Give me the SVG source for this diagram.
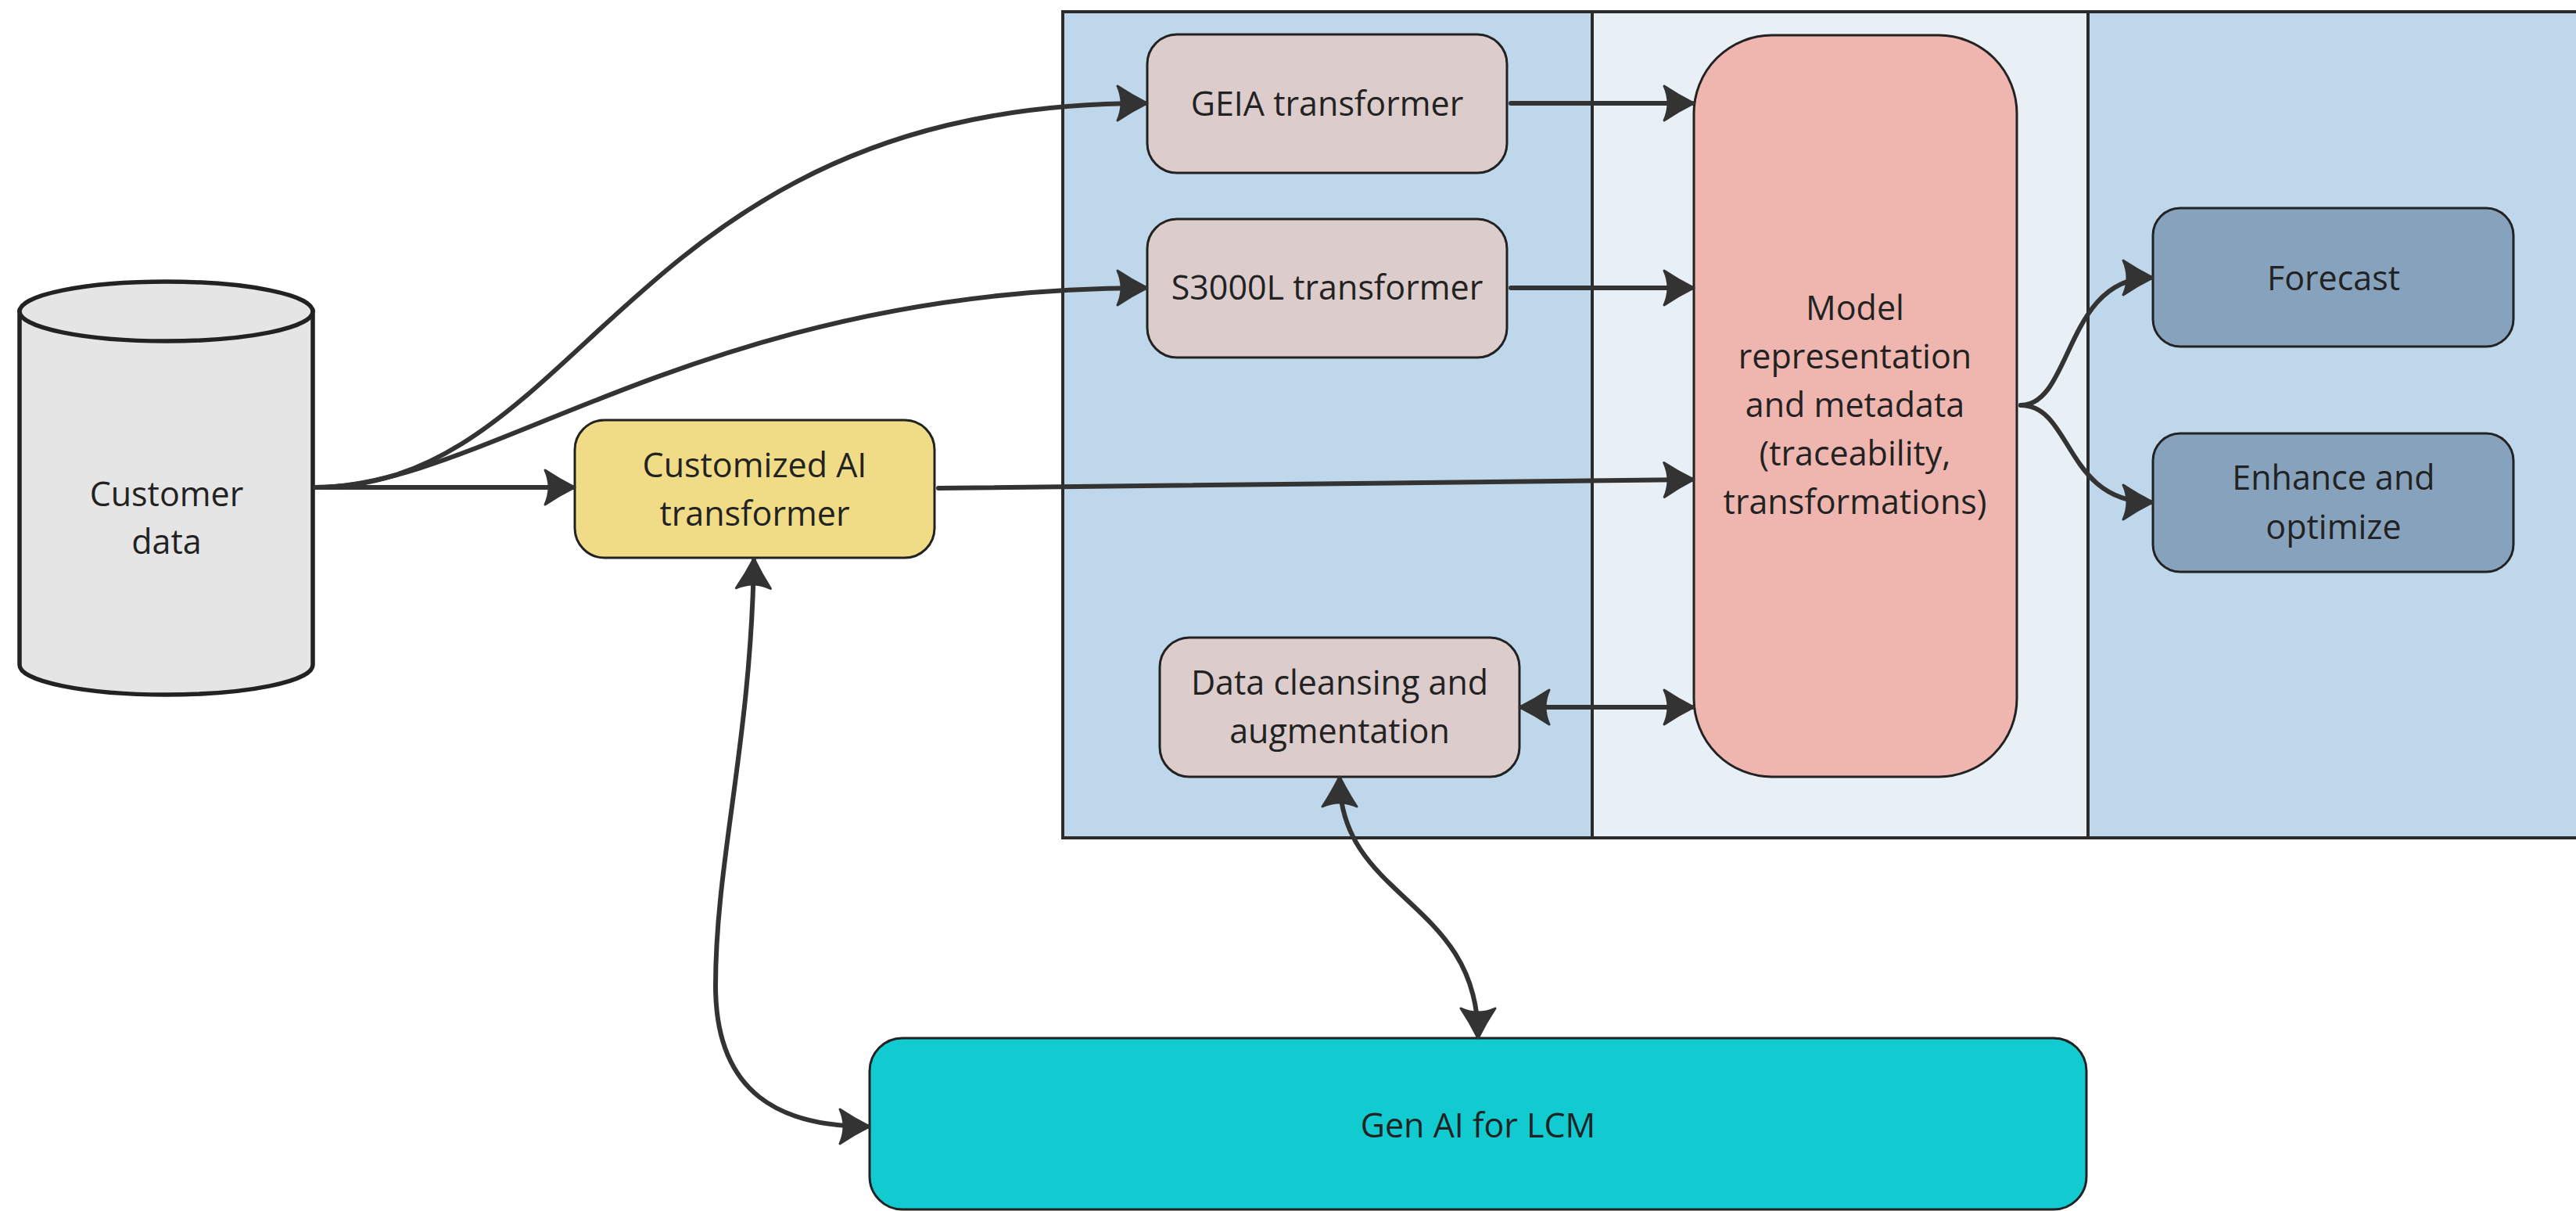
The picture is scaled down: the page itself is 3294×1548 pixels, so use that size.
<svg xmlns="http://www.w3.org/2000/svg" width="3294" height="1548" viewBox="0 0 3294 1548">
<defs>
<style>
.panel{stroke:#2b2b2b;stroke-width:4}
.node{stroke:#222;stroke-width:3}
.cyl{stroke:#222;stroke-width:5.5;fill:#E5E5E5}
.lbl{font-family:"Open Sans","Noto Sans","Liberation Sans",sans-serif;font-size:43px;fill:#222;text-anchor:middle}
.edge{fill:none;stroke:#333;stroke-width:6;stroke-linecap:round}
</style>
<marker id="arr" viewBox="0 0 44 50" refX="40" refY="25" markerWidth="44" markerHeight="50" markerUnits="userSpaceOnUse" orient="auto-start-reverse">
<path d="M4,3 Q22,15 42,25 Q22,35 4,47 Q14,25 4,3 Z" fill="#333" stroke="#333" stroke-width="3" stroke-linejoin="round"/>
</marker>
</defs>
<rect width="3294" height="1548" fill="#ffffff"/>
<g id="panels">
<rect class="panel" x="1359" y="15" width="677" height="1056" fill="#BFD7EA"/>
<rect class="panel" x="2036" y="15" width="634" height="1056" fill="#E8EFF5"/>
<rect class="panel" x="2670" y="15" width="640" height="1056" fill="#BFD7EA"/>
</g>
<g id="customer-data">
<path class="cyl" d="M25,398 L25,850 A187.5,38 0 0 0 400,850 L400,398 Z"/>
<ellipse class="cyl" cx="212.5" cy="398" rx="187.5" ry="38"/>
<text class="lbl" x="213" y="647">Customer</text>
<text class="lbl" x="213" y="708">data</text>
</g>
<g id="customized-ai">
<rect class="node" x="735" y="537" width="460" height="176" rx="38" fill="#F0DC86"/>
<text class="lbl" x="965" y="610">Customized AI</text>
<text class="lbl" x="965" y="672">transformer</text>
</g>
<g id="geia">
<rect class="node" x="1467" y="44" width="460" height="177" rx="38" fill="#DCCCCB"/>
<text class="lbl" x="1697" y="148">GEIA transformer</text>
</g>
<g id="s3000l">
<rect class="node" x="1467" y="280" width="460" height="177" rx="38" fill="#DCCCCB"/>
<text class="lbl" x="1697" y="383">S3000L transformer</text>
</g>
<g id="data-cleansing">
<rect class="node" x="1483" y="815" width="460" height="178" rx="38" fill="#DCCCCB"/>
<text class="lbl" x="1713" y="888">Data cleansing and</text>
<text class="lbl" x="1713" y="950">augmentation</text>
</g>
<g id="model">
<rect class="node" x="2166" y="45" width="413" height="948" rx="100" fill="#EEB6AE"/>
<text class="lbl" x="2372" y="409">Model</text>
<text class="lbl" x="2372" y="471">representation</text>
<text class="lbl" x="2372" y="533">and metadata</text>
<text class="lbl" x="2372" y="595">(traceability,</text>
<text class="lbl" x="2372" y="657">transformations)</text>
</g>
<g id="forecast">
<rect class="node" x="2753" y="266" width="461" height="177" rx="35" fill="#87A2BD"/>
<text class="lbl" x="2984" y="371">Forecast</text>
</g>
<g id="enhance">
<rect class="node" x="2753" y="554" width="461" height="177" rx="35" fill="#87A2BD"/>
<text class="lbl" x="2984" y="626">Enhance and</text>
<text class="lbl" x="2984" y="689">optimize</text>
</g>
<g id="gen-ai">
<rect class="node" x="1112" y="1327" width="1556" height="219" rx="42" fill="#12CBD1"/>
<text class="lbl" x="1890" y="1454">Gen AI for LCM</text>
</g>
<g id="connectors">
<path class="edge" d="M403,623 L733,623" marker-end="url(#arr)"/>
<path class="edge" d="M403,623 C750,623 800,132 1465,132" marker-end="url(#arr)"/>
<path class="edge" d="M403,623 C620,623 900,368 1465,368" marker-end="url(#arr)"/>
<path class="edge" d="M1200,624 L2164,613" marker-end="url(#arr)"/>
<path class="edge" d="M1932,132 L2164,132" marker-end="url(#arr)"/>
<path class="edge" d="M1932,368 L2164,368" marker-end="url(#arr)"/>
<path class="edge" d="M1945,904 L2164,904" marker-start="url(#arr)" marker-end="url(#arr)"/>
<path class="edge" d="M2584,518 C2650,518 2640,355 2751,355" marker-end="url(#arr)"/>
<path class="edge" d="M2584,518 C2650,518 2640,642 2751,642" marker-end="url(#arr)"/>
<path class="edge" d="M964,716 C960,950 915,1100 915,1260 C915,1400 1000,1440 1110,1440" marker-start="url(#arr)" marker-end="url(#arr)"/>
<path class="edge" d="M1713,995 C1713,1150 1890,1150 1890,1325" marker-start="url(#arr)" marker-end="url(#arr)"/>
</g>
</svg>
